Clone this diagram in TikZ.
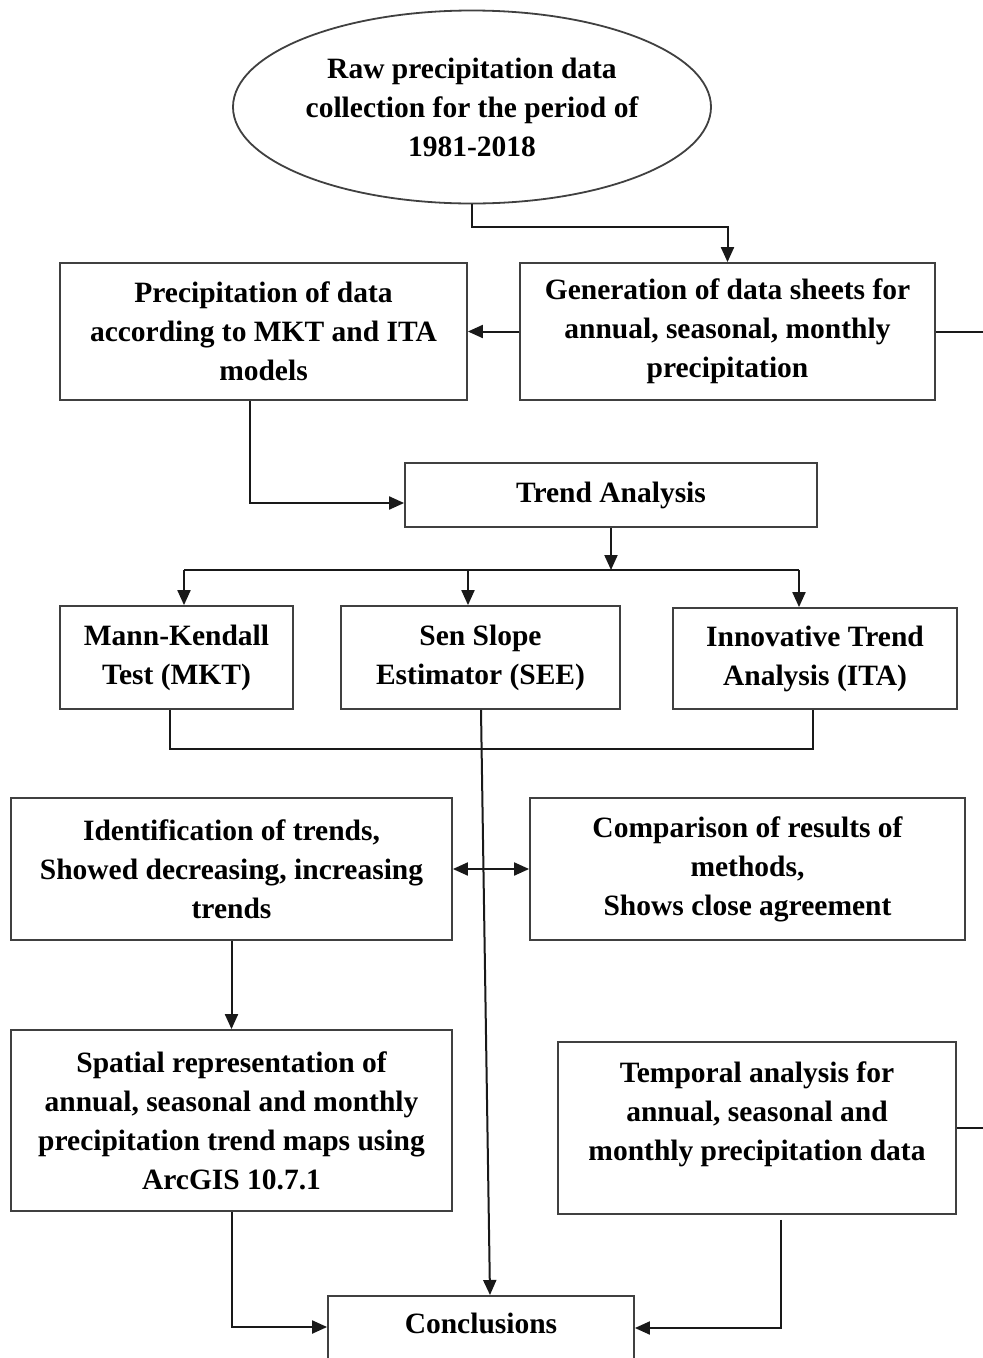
\documentclass[tikz,border=0pt]{standalone}
\usepackage{fontspec}
\setmainfont{Liberation Serif}
\usetikzlibrary{shapes.geometric,arrows.meta,calc}
\tikzset{
  boxnode/.style={draw=black!75, line width=1.8pt, rectangle, align=center, inner sep=2pt,
    font=\fontsize{29.5}{39}\selectfont\bfseries},
  conn/.style={draw=black!90, line width=2pt},
  arr/.style={conn, -{Triangle[length=15pt,width=13pt]}},
  darr/.style={conn, {Triangle[length=15pt,width=13pt]}-{Triangle[length=15pt,width=13pt]}}
}
\begin{document}
\begin{tikzpicture}[x=1pt,y=-1pt]
\clip (0,0) rectangle (983,1358);
\fill[white] (0,0) rectangle (983,1358);

% nodes
\node[boxnode, ellipse, minimum width=478pt, minimum height=193pt, inner sep=0pt] (raw) at (472,107)
  {Raw precipitation data\\collection for the period of\\1981-2018};
\node[boxnode, minimum width=407pt, minimum height=137pt] (prec) at (263.5,331.5)
  {Precipitation of data\\according to MKT and ITA\\models};
\node[boxnode, minimum width=415pt, minimum height=137pt] (gen) at (727.5,331.5)
  {Generation of data sheets for\\annual, seasonal, monthly\\precipitation};
\node[boxnode, minimum width=412pt, minimum height=64pt] (trend) at (611,495)
  {Trend Analysis};
\node[boxnode, minimum width=233pt, minimum height=103pt] (mkt) at (176.5,657.5)
  {Mann-Kendall\\Test (MKT)};
\node[boxnode, minimum width=279pt, minimum height=103pt] (see) at (480.5,657.5)
  {Sen Slope\\Estimator (SEE)};
\node[boxnode, minimum width=284pt, minimum height=101pt] (ita) at (815,658.5)
  {Innovative Trend\\Analysis (ITA)};
\node[boxnode, minimum width=441pt, minimum height=142pt] (ident) at (231.5,869)
  {Identification of trends,\\Showed decreasing, increasing\\trends};
\node[boxnode, minimum width=435pt, minimum height=142pt] (comp) at (747.5,869)
  {Comparison of results of\\methods,\\Shows close agreement};
\node[boxnode, minimum width=441pt, minimum height=181pt] (spat) at (231.5,1120.5)
  {Spatial representation of\\annual, seasonal and monthly\\precipitation trend maps using\\ArcGIS 10.7.1};
\node[boxnode, minimum width=398pt, minimum height=172pt, text depth=34pt] (temp) at (757,1128)
  {Temporal analysis for\\annual, seasonal and\\monthly precipitation data};
\node[boxnode, anchor=north, minimum width=306pt, inner ysep=10pt, text height=28pt, text depth=70pt] (conc) at (481,1295)
  {Conclusions};

% free ends and bends
\coordinate (r1) at (983,331.5);
\coordinate (r2) at (983,1128);
\coordinate (hub) at (611,570);
\coordinate (bl) at (184,570);
\coordinate (br) at (799,570);

% connectors
\draw[arr] (raw.south) -- ++(0,23) -| (gen.north);
\draw[conn] (gen.east) -- (r1);
\draw[arr] (gen.west) -- (prec.east);
\draw[arr] (prec.south -| 250,0) |- ($(trend.west)+(0,8)$);
\draw[arr] (trend.south) -- (hub);
\draw[conn] (bl) -- (br);
\draw[arr] (bl) -- (bl |- mkt.north);
\draw[arr] (468,570) -- (468,0 |- see.north);
\draw[arr] (br) -- (br |- ita.north);
\draw[conn] (mkt.south -| 170,0) -- (170,749) -- (813,749) -- (ita.south -| 813,0);
\draw[arr] (see.south -| 481,0) -- ($(conc.north)+(9,0)$);
\draw[darr] (ident.east) -- (comp.west);
\draw[arr] (ident.south) -- (spat.north);
\draw[conn] (temp.east) -- (r2);
\draw[arr] (spat.south) |- (conc.west |- 0,1327);
\draw[arr] ($(temp.south -| 781,0)+(0,5)$) |- (conc.east |- 0,1328);
\end{tikzpicture}
\end{document}
